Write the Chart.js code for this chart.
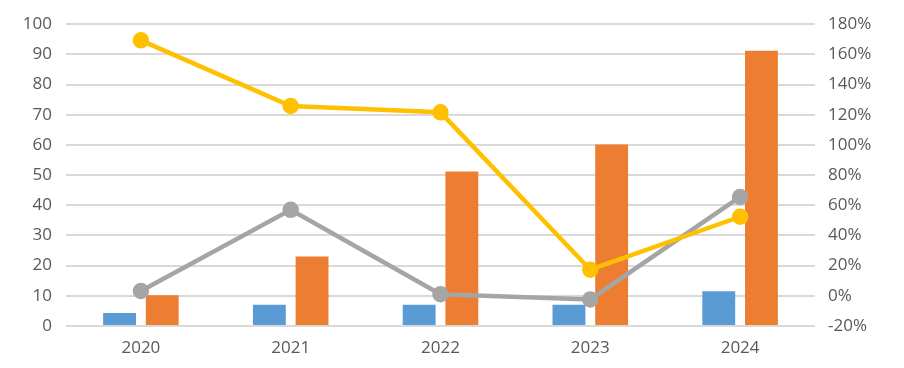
<!DOCTYPE html>
<html>
<head>
<meta charset="utf-8">
<script src="https://cdn.jsdelivr.net/npm/chart.js@4/dist/chart.umd.min.js"></script>
<style>
  html, body { margin: 0; padding: 0; background: #fff; }
  #wrap { width: 904px; height: 368px; position: relative; }
</style>
</head>
<body>
<div id="wrap"><canvas id="chart"></canvas></div>
<script>
const years = ['2020', '2021', '2022', '2023', '2024'];
const blueBars = [4.3, 7.0, 7.0, 7.0, 11.5];
const orangeBars = [10.2, 23.0, 51.2, 60.1, 91.2];
const yellowLine = [169.3, 125.8, 121.6, 17.3, 52.4];
const grayLine = [3.2, 57.0, 1.1, -2.4, 65.5];
const leftTicks = { min: 0, max: 100, step: 10 };
const rightTicks = { min: -20, max: 180, step: 20 };

const textColor = '#595959';
const gridColor = '#D9D9D9';
const font = { family: 'Open Sans', size: 17 };

new Chart(document.getElementById('chart'), {
  data: {
    labels: years,
    datasets: [
      { type: 'line', data: yellowLine, yAxisID: 'y1', order: 0, borderColor: '#FFC000', backgroundColor: '#FFC000', borderWidth: 4.5, pointRadius: 6, pointHoverRadius: 6, tension: 0 },
      { type: 'line', data: grayLine, yAxisID: 'y1', order: 1, borderColor: '#A5A5A5', backgroundColor: '#A5A5A5', borderWidth: 4.5, pointRadius: 6, pointHoverRadius: 6, tension: 0 },
      { type: 'bar', data: blueBars, yAxisID: 'y', order: 2, backgroundColor: '#5B9BD5', barPercentage: 0.77, categoryPercentage: 0.57 },
      { type: 'bar', data: orangeBars, yAxisID: 'y', order: 3, backgroundColor: '#ED7D31', barPercentage: 0.77, categoryPercentage: 0.57 },
    ],
  },
  options: {
    responsive: true,
    maintainAspectRatio: false,
    animation: false,
    layout: { padding: { top: 12, right: 0, bottom: 0, left: 0 } },
    plugins: { legend: { display: false }, tooltip: { enabled: false } },
    scales: {
      x: {
        grid: { display: false, drawTicks: false },
        border: { display: false },
        ticks: { color: textColor, font, padding: 12 },
        afterFit: s => { s.height = 42; },
      },
      y: {
        position: 'left',
        min: leftTicks.min, max: leftTicks.max,
        ticks: { stepSize: leftTicks.step, color: textColor, font, padding: 14 },
        grid: { color: gridColor, lineWidth: 2, drawTicks: false },
        border: { display: false },
        afterFit: s => { s.width = 66; },
      },
      y1: {
        position: 'right',
        min: rightTicks.min, max: rightTicks.max,
        ticks: { stepSize: rightTicks.step, color: textColor, font, padding: 13, callback: v => v + '%' },
        grid: { display: false, drawTicks: false },
        border: { display: false },
        afterFit: s => { s.width = 89; },
      },
    },
  },
});
</script>
</body>
</html>
